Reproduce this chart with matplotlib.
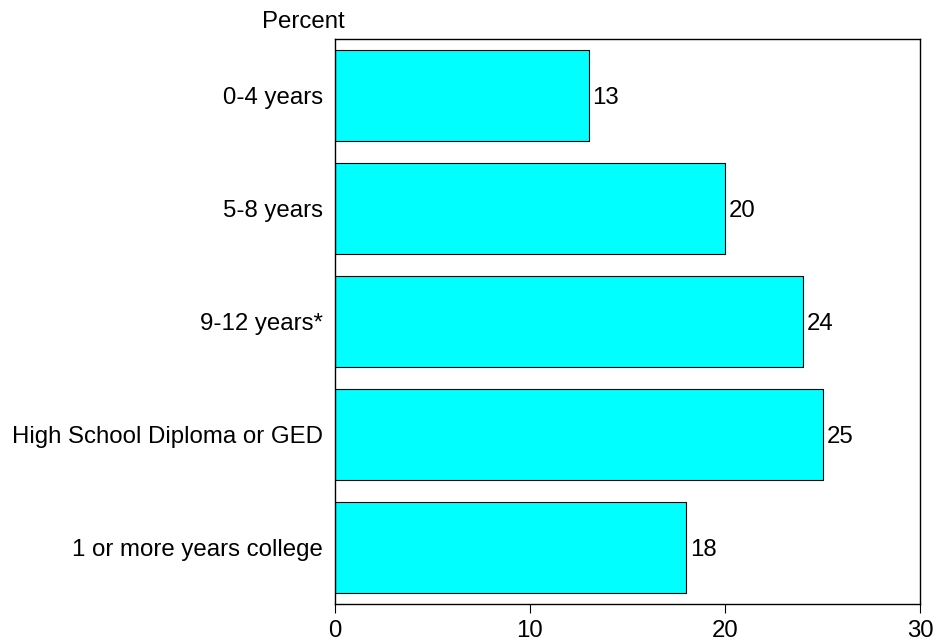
import matplotlib
matplotlib.use("Agg")
import matplotlib.pyplot as plt

categories = ["0-4 years", "5-8 years", "9-12 years*", "High School Diploma or GED", "1 or more years college"]
values = [13, 20, 24, 25, 18]
xticks = [0, 10, 20, 30]

plt.rcParams['font.family'] = ['Liberation Sans', 'DejaVu Sans']
W, H = 936, 641
FS = 17.3
fig = plt.figure(figsize=(W/100, H/100), dpi=100)
ax = fig.add_axes([335/W, (H-604)/H, (920-335)/W, (604-39)/H])

ypos = list(range(len(categories)))
ax.barh(ypos, values, height=0.8, color='#00FFFF', edgecolor='black', linewidth=0.8)
for y, v in zip(ypos, values):
    ax.text(v + 0.2, y + 0.025, str(v), va='center', ha='left', fontsize=FS)

ax.set_ylim(len(categories) - 0.5, -0.5)
ax.set_xlim(0, 30)
ax.set_yticks(ypos)
ax.set_yticklabels(categories, fontsize=FS)
ax.tick_params(axis='y', length=0, pad=8.5)
ax.set_xticks(xticks)
ax.set_xticklabels([str(t) for t in xticks], fontsize=FS)
ax.tick_params(axis='x', length=6.5, width=0.8, direction='out', pad=5)
for s in ax.spines.values():
    s.set_linewidth(1.0)
    s.set_color('black')

fig.text(303/W, 1 - 22/H, "Percent", ha='center', va='center', fontsize=FS)

fig.savefig("out.png", dpi=100)
